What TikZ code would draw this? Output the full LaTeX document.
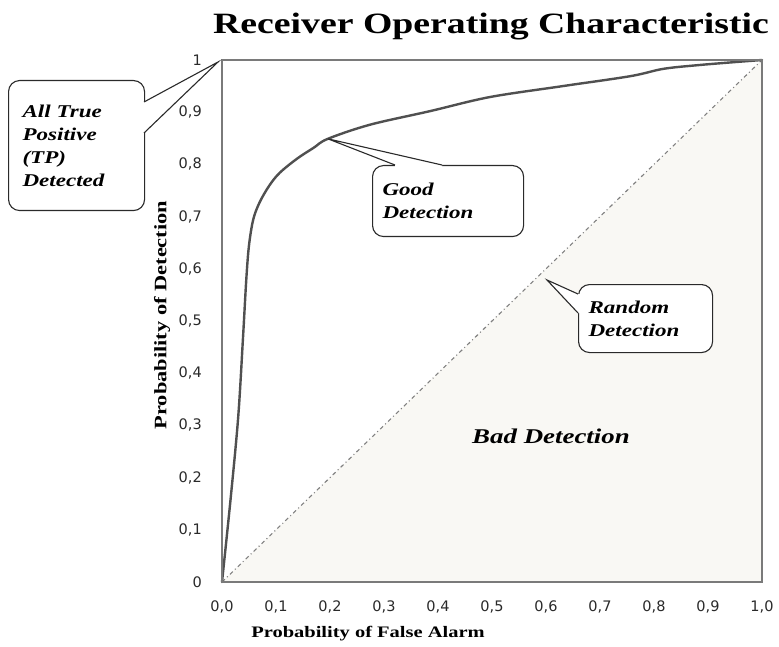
\documentclass[tikz,border=0pt]{standalone}
\usepackage{fontspec}
\setmainfont{Liberation Serif}[FakeStretch=1.28]
\newfontfamily\ticksfont{DejaVu Sans}
\usetikzlibrary{calc}

\definecolor{curvegray}{HTML}{505050}
\definecolor{framegray}{HTML}{7A7A7A}
\definecolor{badfill}{HTML}{F9F8F4}
\definecolor{diaggray}{HTML}{808080}
\definecolor{inkgray}{HTML}{2A2A2A}

\tikzset{
  ticklabel/.style={font=\ticksfont\fontsize{14.5}{16}\selectfont, text=inkgray, inner sep=0pt},
  axistitle/.style={font=\bfseries\fontsize{16}{18}\selectfont, inner sep=0pt},
  calloutbox/.style={draw=inkgray, line width=1.1pt, fill=white, rounded corners=11pt,
    anchor=north west, align=left, inner ysep=0pt,
    font=\bfseries\itshape\fontsize{18}{23}\selectfont},
  tailline/.style={draw=inkgray, line width=1.1pt, line join=miter},
  roccurve/.style={draw=curvegray, line width=2.4pt, line cap=round, line join=round},
  chance/.style={draw=diaggray, line width=1.1pt, dash pattern=on 4pt off 3pt on 1pt off 3pt},
}

\begin{document}
\begin{tikzpicture}[x=1pt,y=-1pt]
\useasboundingbox (0,0) rectangle (779,647);
\fill[white] (0,0) rectangle (779,647);

% title
\node[font=\bfseries\fontsize{29.5}{34}\selectfont, inner sep=0pt] (title) at (491,27) {Receiver Operating Characteristic};

% plot area, unit square mapped onto the frame
\begin{scope}[shift={(222,582)}, x=540pt, y=522pt]
  \coordinate (O) at (0,0);
  \coordinate (X1) at (1,0);
  \coordinate (Y1) at (0,1);
  \coordinate (XY1) at (1,1);
  % region below the chance line
  \fill[badfill] (O) -- (X1) -- (XY1) -- cycle;
  % chance line
  \draw[chance] (O) -- (XY1);
  % ROC curve
  \draw[roccurve] plot[smooth, tension=0.55] coordinates {
    (0,0) (0.016,0.16) (0.030,0.316) (0.039,0.47) (0.045,0.58) (0.050,0.645)
    (0.058,0.695) (0.070,0.728) (0.088,0.760) (0.107,0.784) (0.139,0.811)
    (0.170,0.832) (0.196,0.849) (0.274,0.876)
    (0.385,0.902) (0.496,0.929) (0.631,0.950) (0.756,0.969) (0.817,0.983)
    (0.880,0.990) (0.95,0.996) (1,1)};
  \coordinate (goodtip) at (0.196,0.849);
  % frame
  \draw[framegray, line width=1.3pt] (O) rectangle (XY1);
\end{scope}

% y tick labels
\node[ticklabel, anchor=east] (yt0) at (202,582) {0};
\foreach \i in {1,...,9}{
  \node[ticklabel, anchor=east] (yt\i) at (202,{582-52.2*\i}) {0,\i};
}
\node[ticklabel, anchor=east] (yt10) at (202,60) {1};

% x tick labels
\foreach \i in {0,...,9}{
  \node[ticklabel] (xt\i) at ({222+54*\i},607) {0,\i};
}
\node[ticklabel] (xt10) at (762,607) {1,0};

% axis titles
\node[axistitle] (xtitle) at (368,634) {Probability of False Alarm};
\node[axistitle, rotate=90, font=\bfseries\fontsize{17.5}{20}\selectfont] (ytitle) at (162,315) {Probability of Detection};

% region label
\node[font=\bfseries\itshape\fontsize{21}{24}\selectfont, inner sep=0pt] (bad) at (551,436) {Bad Detection};

% callout: all true positive
\node[calloutbox, minimum width=136pt, minimum height=130pt, text width=108pt, inner xsep=14pt] (tpbox) at (8,80)
  {All True\\Positive\\(TP)\\Detected};
\coordinate (tptip) at (218,62);
\coordinate (tpa) at (144,102);
\coordinate (tpb) at (144,133);
\fill[white] ($(tpa)+(-3,0)$) -- (tpa) -- (tptip) -- (tpb) -- ($(tpb)+(-3,0)$) -- cycle;
\draw[tailline] (tpa) -- (tptip) -- (tpb);

% callout: good detection
\node[calloutbox, minimum width=151pt, minimum height=71pt, text width=131pt, inner xsep=10pt] (goodbox) at (372,165)
  {Good\\Detection};
\coordinate (gooda) at (395,165);
\coordinate (goodb) at (442,165);
\fill[white] ($(gooda)+(0,3)$) -- (gooda) -- (goodtip) -- (goodb) -- ($(goodb)+(0,3)$) -- cycle;
\draw[tailline] (gooda) -- (goodtip) -- (goodb);

% callout: random detection
\node[calloutbox, minimum width=134pt, minimum height=68pt, text width=114pt, inner xsep=10pt] (randbox) at (578,284)
  {Random\\Detection};
\coordinate (randtip) at (547,280);
\coordinate (randa) at (578,294);
\coordinate (randb) at (578,313);
\fill[white] ($(randa)+(3,0)$) -- (randa) -- (randtip) -- (randb) -- ($(randb)+(3,0)$) -- cycle;
\draw[tailline] (randa) -- (randtip) -- (randb);
\end{tikzpicture}
\end{document}
